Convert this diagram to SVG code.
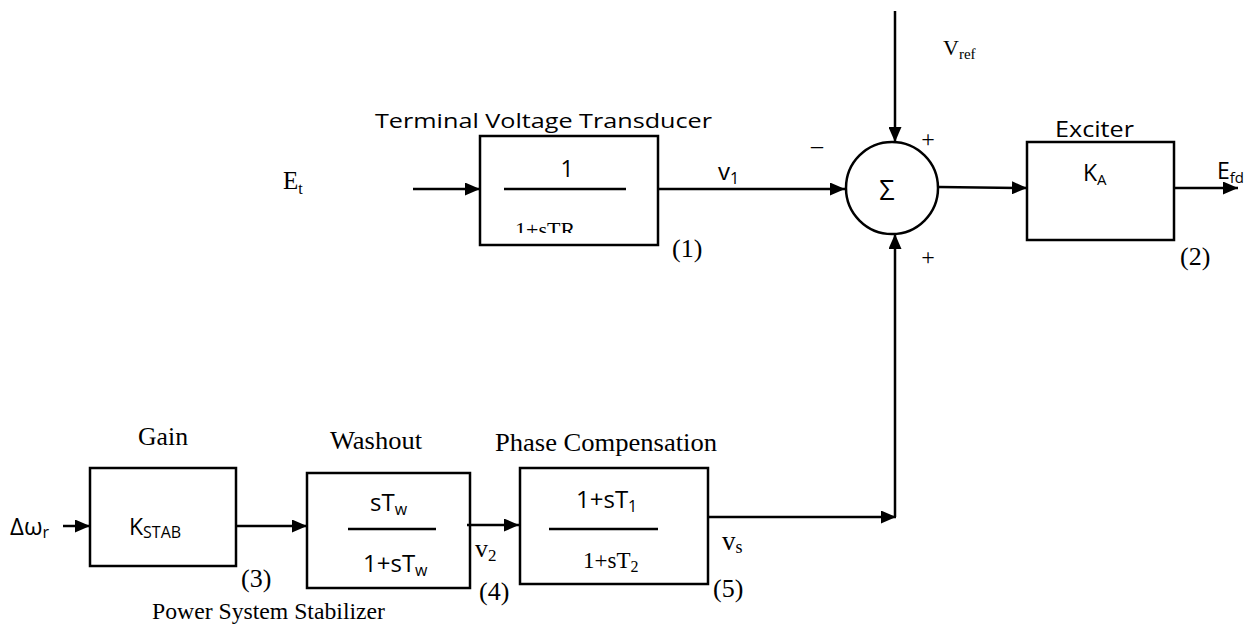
<svg xmlns="http://www.w3.org/2000/svg" width="1252" height="626" viewBox="0 0 1252 626">
<style>
.box{fill:none;stroke:#000;stroke-width:2.5}
.ln{fill:none;stroke:#000;stroke-width:2.5}
.fr{stroke:#000;stroke-width:2.5}
.serif{font-family:"Liberation Serif","Times New Roman",serif;fill:#000}
.sans{font-family:"Open Sans","Noto Sans",sans-serif;fill:#000}
</style>
<defs>
<marker id="arr" markerWidth="15" markerHeight="13" refX="15" refY="6.5" orient="auto" markerUnits="userSpaceOnUse">
<path d="M0,0 L15,6.5 L0,13 z" fill="#000"/>
</marker>
<clipPath id="clipTR"><rect x="482" y="138" width="174" height="95"/></clipPath>
</defs>

<g id="connectors">
<line class="ln" x1="413" y1="189" x2="480" y2="189" marker-end="url(#arr)"/>
<line class="ln" x1="658" y1="189" x2="845" y2="189" marker-end="url(#arr)"/>
<line class="ln" x1="895" y1="11" x2="895" y2="142" marker-end="url(#arr)"/>
<line class="ln" x1="939" y1="187" x2="1027" y2="188" marker-end="url(#arr)"/>
<line class="ln" x1="1174" y1="188" x2="1238" y2="188" marker-end="url(#arr)"/>
<line class="ln" x1="63" y1="526" x2="90" y2="526" marker-end="url(#arr)"/>
<line class="ln" x1="236" y1="526" x2="307" y2="526" marker-end="url(#arr)"/>
<line class="ln" x1="467" y1="525" x2="519" y2="525" marker-end="url(#arr)"/>
<line class="ln" x1="708" y1="517" x2="896" y2="517" marker-end="url(#arr)"/>
<line class="ln" x1="895" y1="517" x2="895" y2="234" marker-end="url(#arr)"/>
</g>

<g id="input-Et">
<text class="serif" x="283" y="189" font-size="25">E<tspan font-size="16" dy="5">t</tspan></text>
</g>

<g id="transducer">
<text class="sans" x="375" y="128" font-size="20" textLength="337" lengthAdjust="spacingAndGlyphs">Terminal Voltage Transducer</text>
<rect class="box" x="480" y="136" width="178" height="109"/>
<text class="sans" x="567" y="177" font-size="23" text-anchor="middle">1</text>
<line class="fr" x1="504" y1="189" x2="626" y2="189"/>
<text class="serif" x="515" y="237" font-size="22" clip-path="url(#clipTR)">1+sTR</text>
<text class="serif" x="672" y="257" font-size="26">(1)</text>
</g>

<g id="v1-label">
<text class="sans" x="718" y="180" font-size="24">v<tspan font-size="16" dy="4">1</tspan></text>
</g>

<g id="summer">
<circle class="box" cx="892" cy="188" r="46"/>
<text class="sans" x="887" y="200" font-size="27" text-anchor="middle">Σ</text>
<text class="serif" x="928" y="147" font-size="24" text-anchor="middle">+</text>
<text class="serif" x="928" y="265" font-size="24" text-anchor="middle">+</text>
<text class="serif" x="817" y="153" font-size="24" text-anchor="middle">–</text>
<text class="serif" x="943" y="55" font-size="22">V<tspan font-size="15" dy="4">ref</tspan></text>
</g>

<g id="exciter">
<text class="sans" x="1055" y="137" font-size="21" textLength="79" lengthAdjust="spacingAndGlyphs">Exciter</text>
<rect class="box" x="1027" y="142" width="147" height="98"/>
<text class="sans" x="1083" y="181" font-size="23">K<tspan font-size="15" dy="4">A</tspan></text>
<text class="sans" x="1217" y="179" font-size="23">E<tspan font-size="15" dy="4">fd</tspan></text>
<text class="serif" x="1180" y="265" font-size="26">(2)</text>
</g>

<g id="input-dw">
<text class="sans" x="10" y="535" font-size="24">Δω<tspan font-size="16" dy="3">r</tspan></text>
</g>

<g id="gain">
<text class="serif" x="138" y="445" font-size="25" textLength="50" lengthAdjust="spacingAndGlyphs">Gain</text>
<rect class="box" x="90" y="468" width="146" height="98"/>
<text class="sans" x="129" y="535" font-size="23">K<tspan font-size="16" dy="3">STAB</tspan></text>
<text class="serif" x="241" y="587" font-size="26">(3)</text>
</g>

<g id="washout">
<text class="serif" x="330" y="449" font-size="25" textLength="92" lengthAdjust="spacingAndGlyphs">Washout</text>
<rect class="box" x="307" y="473" width="163" height="115"/>
<text class="sans" x="370" y="511" font-size="24">sT<tspan font-size="16" dy="4">w</tspan></text>
<line class="fr" x1="348" y1="529" x2="436" y2="529"/>
<text class="sans" x="363" y="572" font-size="24">1+sT<tspan font-size="16" dy="4">w</tspan></text>
<text class="serif" x="475" y="557" font-size="26">v<tspan font-size="17" dy="4">2</tspan></text>
<text class="serif" x="479" y="600" font-size="26">(4)</text>
<text class="serif" x="152" y="619" font-size="24" textLength="233" lengthAdjust="spacingAndGlyphs">Power System Stabilizer</text>
</g>

<g id="phase">
<text class="serif" x="495" y="451" font-size="25" textLength="222" lengthAdjust="spacingAndGlyphs">Phase Compensation</text>
<rect class="box" x="520" y="468" width="188" height="116"/>
<text class="sans" x="576" y="508" font-size="24">1+sT<tspan font-size="16" dy="4">1</tspan></text>
<line class="fr" x1="549" y1="529" x2="658" y2="529"/>
<text class="serif" x="583" y="568" font-size="23">1+sT<tspan font-size="16" dy="4">2</tspan></text>
<text class="serif" x="722" y="550" font-size="27">v<tspan font-size="18" dy="3">s</tspan></text>
<text class="serif" x="713" y="597" font-size="26">(5)</text>
</g>
</svg>
